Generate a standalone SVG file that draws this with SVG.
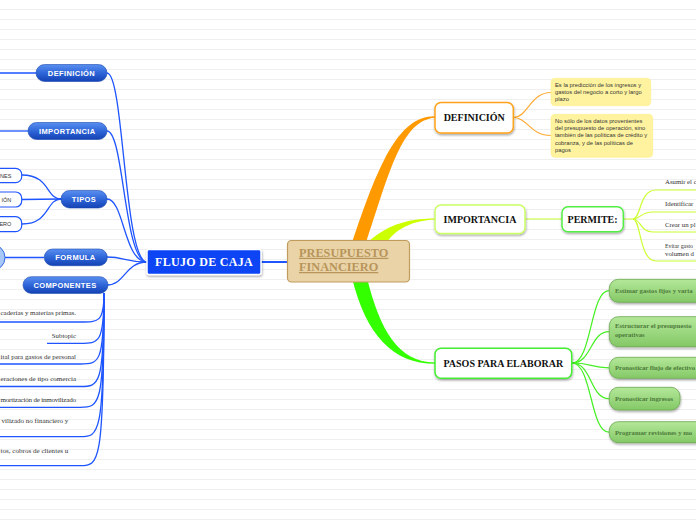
<svg xmlns="http://www.w3.org/2000/svg" width="696" height="520" viewBox="0 0 696 520">
<style>
.bl{fill:none;stroke:#1e55ff;stroke-width:1.3}
.lm{fill:none;stroke:#ccff33;stroke-width:1.2}
.gr{fill:none;stroke:#44f022;stroke-width:1.2}
.orl{fill:none;stroke:#ffaa33;stroke-width:1.2}
.lnode{fill:url(#blueg);stroke:#1a48b0;stroke-width:0.6}
.ltxt{font-family:"Liberation Sans",Arial,sans-serif;font-weight:bold;font-size:7.5px;fill:#fff;text-anchor:middle;letter-spacing:0.4px}
.tip{fill:#fff;stroke:#1e55ff;stroke-width:1.2}
.tiptxt{font-family:"Liberation Sans",Arial,sans-serif;font-size:5.5px;fill:#333;text-anchor:end}
.ctxt{font-family:"Liberation Serif","Times New Roman",serif;font-size:6.8px;fill:#333}
.ktxt{font-family:"Liberation Serif","Times New Roman",serif;font-size:7px;fill:#333}
.rnode{fill:#fff;stroke-width:1.5}
.rtxt{font-family:"Liberation Serif","Times New Roman",serif;font-weight:bold;font-size:10px;fill:#111;text-anchor:middle}
.note{fill:#fff3a0;stroke:#ffee88;stroke-width:0.6}
.ntxt{font-family:"Liberation Sans",Arial,sans-serif;font-size:5.8px;fill:#333}
.gbox{fill:url(#greeng);stroke:#6aa84f;stroke-width:0.8}
.gtxt{font-family:"Liberation Serif","Times New Roman",serif;font-weight:bold;font-size:6.7px;fill:#4d7a3a}
</style>
<defs>
<pattern id="lines" width="696" height="10" patternUnits="userSpaceOnUse"><rect x="0" y="9" width="696" height="1" fill="#efefef"/></pattern>
<linearGradient id="blueg" x1="0" y1="0" x2="0" y2="1"><stop offset="0" stop-color="#5a8ff0"/><stop offset="0.5" stop-color="#2f66d8"/><stop offset="1" stop-color="#1442b4"/></linearGradient>
<linearGradient id="greeng" x1="0" y1="0" x2="0" y2="1"><stop offset="0" stop-color="#b4e89a"/><stop offset="1" stop-color="#84c866"/></linearGradient>
<filter id="sh" x="-20%" y="-30%" width="140%" height="180%"><feDropShadow dx="0.5" dy="1.5" stdDeviation="1" flood-color="#000" flood-opacity="0.35"/></filter>
</defs>
<rect width="696" height="520" fill="#fff"/>
<rect width="696" height="520" fill="url(#lines)"/>

<g id="connectors">
<path d="M351,246 C378,165 398,116 435,116.3 L435,117.7 C402,120 390,170 365,246 Z" fill="#ff9900"/>
<path d="M366,244 C385,226 405,218.5 435,218.4 L435,219.6 C408,221 393,232 386,244 Z" fill="#ccff00"/>
<path d="M352,278 C366,335 393,363.8 435,363.8 L435,362.6 C398,362 380,330 367,278 Z" fill="#33ff00"/>
<line class="bl" x1="261" y1="262" x2="287" y2="262" style="stroke-width:2"/>
<path class="bl" d="M107,73 C124,73 124,262 147,262"/>
<path class="bl" d="M107,131 C124,131 124,262 147,262"/>
<path class="bl" d="M107,199 C124,199 124,262 147,262"/>
<path class="bl" d="M107,257 C125,257 125,262 147,262"/>
<path class="bl" d="M107,285 C125,285 125,262 147,262"/>
<line class="bl" x1="0" y1="73" x2="36" y2="73"/>
<line class="bl" x1="0" y1="131" x2="28" y2="131"/>
<line class="bl" x1="5" y1="257.5" x2="44" y2="257.5"/>
<path class="bl" d="M61,199 C46,199 50,175 22,175"/>
<path class="bl" d="M61,199 L22,199.5"/>
<path class="bl" d="M61,199 C46,199 50,224 22,224"/>
<path class="bl" d="M104,293 C104,322 99,322 80,322 L0,322"/>
<path class="bl" d="M104,293 C104,343.3 99,343.3 80,343.3 L47,343.3"/>
<path class="bl" d="M104,293 C104,364 99,364 80,364 L0,364"/>
<path class="bl" d="M104,293 C104,386.5 99,386.5 80,386.5 L0,386.5"/>
<path class="bl" d="M104,293 C104,407.3 99,407.3 80,407.3 L0,407.3"/>
<path class="bl" d="M104,293 C104,436.7 99,436.7 80,436.7 L0,436.7"/>
<path class="bl" d="M104,293 C104,465.7 99,465.7 80,465.7 L0,465.7"/>
<path class="orl" d="M513,117.5 C528,117.5 530,92.5 551,92.5"/>
<path class="orl" d="M513,117.5 C528,117.5 530,135.5 551,135.5"/>
<line class="lm" x1="525" y1="219" x2="562" y2="219"/>
<path class="lm" d="M623,219 L633,219 C641,219 639,190 656,190 L696,190"/>
<path class="lm" d="M633,219 C641,219 640,212 653,212 L696,212"/>
<path class="lm" d="M633,219 C641,219 640,232 653,232 L696,232"/>
<path class="lm" d="M633,219 C641,219 639,261 656,261 L696,261"/>
<path class="gr" d="M572,363 C592,363 590,290.7 609,290.7"/>
<path class="gr" d="M572,363 C592,363 590,331.7 609,331.7"/>
<path class="gr" d="M572,363 C592,363 590,367.8 609,367.8"/>
<path class="gr" d="M572,363 C592,363 590,398.7 609,398.7"/>
<path class="gr" d="M572,363 C592,363 590,432.2 609,432.2"/>
</g>

<g id="central">
<rect x="287.5" y="240.5" width="122" height="41.5" rx="4" fill="#e9d3a7" stroke="#bf9b5c" stroke-width="1.2"/>
<text x="299" y="256.8" font-family="'Liberation Serif','Times New Roman',serif" font-weight="bold" font-size="12.3" fill="#b8955a" text-decoration="underline">PRESUPUESTO</text>
<text x="299" y="271" font-family="'Liberation Serif','Times New Roman',serif" font-weight="bold" font-size="12.3" fill="#b8955a" text-decoration="underline">FINANCIERO</text>
</g>

<g id="flujo">
<rect x="147" y="249.5" width="114" height="25" rx="2" fill="#0a45f5" stroke="#fff" stroke-width="1.5" filter="url(#sh)"/>
<text x="204" y="266" font-family="'Liberation Serif','Times New Roman',serif" font-weight="bold" font-size="12" fill="#fff" text-anchor="middle" letter-spacing="0.3">FLUJO DE CAJA</text>
</g>

<g id="l-definicion"><rect class="lnode" x="36" y="64.5" width="71" height="17" rx="8.5"/><text class="ltxt" x="71.5" y="75.8">DEFINICIÓN</text></g>
<g id="l-importancia"><rect class="lnode" x="28" y="122.5" width="79" height="17" rx="8.5"/><text class="ltxt" x="67.3" y="133.8">IMPORTANCIA</text></g>
<g id="l-tipos"><rect class="lnode" x="61" y="190.5" width="46" height="17.5" rx="8.5"/><text class="ltxt" x="84" y="202">TIPOS</text></g>
<g id="l-formula"><rect class="lnode" x="44.3" y="249" width="63" height="16.7" rx="8.3"/><text class="ltxt" x="75.5" y="260">FORMULA</text></g>
<g id="l-componentes"><rect class="lnode" x="23" y="276.7" width="85" height="16.7" rx="8.3"/><text class="ltxt" x="65" y="287.8">COMPONENTES</text></g>
<g id="l-formula-child"><circle cx="-8" cy="257.5" r="13" fill="#a9c8fa" stroke="#3366dd" stroke-width="1"/></g>

<g id="tipo-1"><rect class="tip" x="-20" y="168.3" width="41.7" height="14.4" rx="6"/><text class="tiptxt" x="11.3" y="177.5">NES</text></g>
<g id="tipo-2"><rect class="tip" x="-20" y="192" width="41.7" height="15" rx="6"/><text class="tiptxt" x="11.3" y="201.5">IÓN</text></g>
<g id="tipo-3"><rect class="tip" x="-20" y="216.7" width="41.7" height="15" rx="6"/><text class="tiptxt" x="11.3" y="226.2">ERO</text></g>

<g id="comp-1"><text class="ktxt" x="0.5" y="315" textLength="75.5" lengthAdjust="spacing">caderías y materias primas.</text></g>
<g id="comp-2"><text class="ctxt" x="76" y="337.7" text-anchor="end">Subtopic</text></g>
<g id="comp-3"><text class="ktxt" x="0.5" y="359.3" textLength="75.5" lengthAdjust="spacing">ital para gastos de personal</text></g>
<g id="comp-4"><text class="ktxt" x="0.5" y="380.5" textLength="75.5" lengthAdjust="spacing">eraciones de tipo comercia</text></g>
<g id="comp-5"><text class="ktxt" x="0.5" y="401.7" textLength="75.5" lengthAdjust="spacing">mortización de inmovilizado</text></g>
<g id="comp-6"><text class="ktxt" x="1.5" y="422.7" textLength="66.8" lengthAdjust="spacing">vilizado no financiero y</text></g>
<g id="comp-7"><text class="ktxt" x="0.5" y="453.3" textLength="67.8" lengthAdjust="spacing">tos, cobros de clientes u</text></g>

<g id="r-definicion"><rect class="rnode" x="435" y="102.5" width="78.3" height="30.5" rx="6" stroke="#ffa21a" filter="url(#sh)"/><text class="rtxt" x="474.2" y="121">DEFINICIÓN</text></g>
<g id="note-1"><rect class="note" x="551" y="78.3" width="99.7" height="27.4" rx="4"/>
<text class="ntxt" x="555" y="86.7">Es la predicción de los ingresos y</text>
<text class="ntxt" x="555" y="94">gastos del negocio a corto y largo</text>
<text class="ntxt" x="555" y="101.3">plazo</text></g>
<g id="note-2"><rect class="note" x="551" y="114.3" width="101.7" height="43" rx="4"/>
<text class="ntxt" x="555" y="122.7">No sólo de los datos provenientes</text>
<text class="ntxt" x="555" y="130">del presupuesto de operación, sino</text>
<text class="ntxt" x="555" y="137.3">también de las políticas de crédito y</text>
<text class="ntxt" x="555" y="144.7">cobranza, y de las políticas de</text>
<text class="ntxt" x="555" y="152">pagos</text></g>

<g id="r-importancia"><rect class="rnode" x="435" y="205" width="90" height="28.5" rx="6" stroke="#ccff66" filter="url(#sh)"/><text class="rtxt" x="480" y="223.3">IMPORTANCIA</text></g>
<g id="r-permite"><rect class="rnode" x="562" y="206.7" width="61.3" height="25" rx="6" stroke="#55ee44" filter="url(#sh)"/><text class="rtxt" x="592.6" y="223.3">PERMITE:</text></g>
<g id="p-1"><text class="ctxt" x="665" y="184">Asumir el c</text></g>
<g id="p-2"><text class="ctxt" x="665" y="205.5">Identificar</text></g>
<g id="p-3"><text class="ctxt" x="665" y="227">Crear un pl</text></g>
<g id="p-4"><text class="ctxt" x="665" y="247.5" font-size="6.2" textLength="28" lengthAdjust="spacingAndGlyphs">Evitar gasto</text><text class="ctxt" x="665" y="255.5">volumen d</text></g>

<g id="r-pasos"><rect class="rnode" x="435" y="348.3" width="136.7" height="30" rx="6" stroke="#44ee33" filter="url(#sh)"/><text class="rtxt" x="503.3" y="367">PASOS PARA ELABORAR</text></g>
<g id="g-1"><rect class="gbox" x="609.3" y="279.3" width="110" height="23" rx="9" filter="url(#sh)"/><text class="gtxt" x="615" y="293.3">Estimar gastos fijos y varia</text></g>
<g id="g-2"><rect class="gbox" x="609.3" y="316.7" width="110" height="30" rx="9" filter="url(#sh)"/><text class="gtxt" x="615" y="328">Estructurar el presupuesto</text><text class="gtxt" x="615" y="336.5">operativas</text></g>
<g id="g-3"><rect class="gbox" x="609.3" y="357.3" width="110" height="21" rx="9" filter="url(#sh)"/><text class="gtxt" x="615" y="370">Pronosticar flujo de efectivo</text></g>
<g id="g-4"><rect class="gbox" x="609.3" y="387.3" width="70.7" height="22.7" rx="9" filter="url(#sh)"/><text class="gtxt" x="615" y="401">Pronosticar ingresos</text></g>
<g id="g-5"><rect class="gbox" x="609.3" y="421.7" width="110" height="21" rx="9" filter="url(#sh)"/><text class="gtxt" x="615" y="434.5">Programar revisiones y mo</text></g>
</svg>
